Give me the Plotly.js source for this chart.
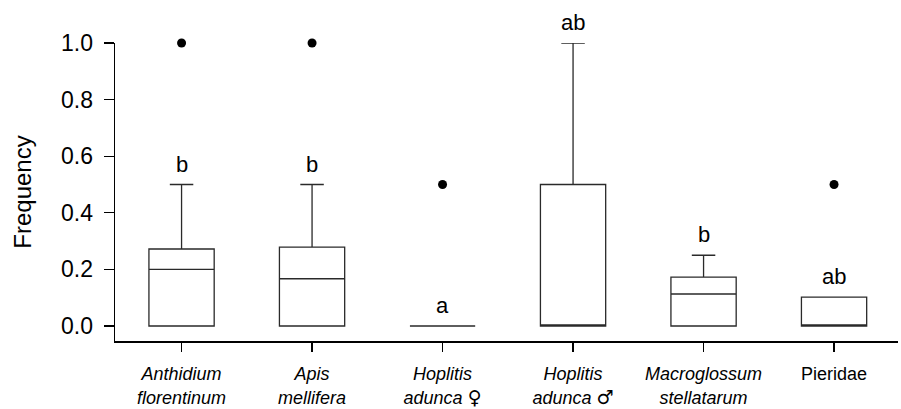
<!DOCTYPE html>
<html>
<head>
<meta charset="utf-8">
<script src="https://cdn.plot.ly/plotly-3.0.1.min.js"></script>
<style>
  html, body { margin: 0; padding: 0; background: #fff; }
  #chart { width: 901px; height: 409px; }
</style>
</head>
<body>
<div id="chart"></div>
<script>
// ---- data ----
const categories = ["Anthidium florentinum", "Apis mellifera", "Hoplitis adunca F", "Hoplitis adunca M", "Macroglossum stellatarum", "Pieridae"];
const SYM = '<span style="font-family:DejaVu Sans;font-size:19px">';
const tickLabels = [
  "<i>Anthidium</i><br><i>florentinum</i>",
  "<i>Apis</i><br><i>mellifera</i>",
  "<i>Hoplitis</i><br><i>adunca</i> " + SYM + "\u2640</span>",
  "<i>Hoplitis</i><br><i>adunca</i> " + SYM + "\u2642</span>",
  "<i>Macroglossum</i><br><i>stellatarum</i>",
  "Pieridae"
];
const lowerFence = [0, 0, 0, 0, 0, 0];
const q1Values     = [0, 0, 0, 0, 0, 0];
const medianValues = [0.20, 0.167, 0, 0, 0.113, 0];
const q3Values     = [0.272, 0.279, 0, 0.5, 0.173, 0.102];
const upperFence   = [0.5, 0.5, 0, 1.0, 0.25, 0.102];
const outlierCats  = ["Anthidium florentinum", "Apis mellifera", "Hoplitis adunca F", "Pieridae"];
const outlierVals  = [1.0, 1.0, 0.5, 0.5];
const letters      = ["b", "b", "a", "ab", "b", "ab"];
const yTicks       = [0, 0.2, 0.4, 0.6, 0.8, 1.0];

const FONT = "Liberation Sans, Arial, Helvetica, sans-serif";

const boxTrace = {
  type: "box",
  x: categories,
  q1: q1Values,
  median: medianValues,
  q3: q3Values,
  lowerfence: lowerFence,
  upperfence: upperFence,
  width: 0.5,
  whiskerwidth: 0.36,
  fillcolor: "#ffffff",
  line: { color: "#2a2a2a", width: 1.3 },
  boxpoints: false,
  hoverinfo: "skip",
  showlegend: false
};

const outlierTrace = {
  type: "scatter",
  mode: "markers",
  x: outlierCats,
  y: outlierVals,
  marker: { color: "#000", size: 9 },
  cliponaxis: false,
  hoverinfo: "skip",
  showlegend: false
};

const annotations = categories.map((c, i) => ({
  x: c,
  y: upperFence[i],
  xref: "x",
  yref: "y",
  text: letters[i],
  showarrow: false,
  yanchor: "bottom",
  yshift: 6,
  font: { family: FONT, size: 22, color: "#000" }
}));

const layout = {
  width: 901,
  height: 409,
  margin: { l: 115, r: 3, t: 43, b: 68 },
  paper_bgcolor: "#fff",
  plot_bgcolor: "#fff",
  font: { family: FONT, color: "#000" },
  showlegend: false,
  xaxis: {
    type: "category",
    categoryorder: "array",
    categoryarray: categories,
    tickvals: categories,
    ticktext: tickLabels,
    range: [-0.51, 5.49],
    showline: true,
    linecolor: "#000",
    linewidth: 1.8,
    ticks: "outside",
    ticklen: 9,
    tickwidth: 1.6,
    tickcolor: "#000",
    showgrid: false,
    zeroline: false,
    tickfont: { family: FONT, size: 18, color: "#000" },
    ticklabelstandoff: 7,
    automargin: false,
    fixedrange: true
  },
  yaxis: {
    range: [-0.053, 1.0],
    tickvals: yTicks,
    tickformat: ".1f",
    showline: true,
    linecolor: "#000",
    linewidth: 1.4,
    ticks: "outside",
    ticklen: 10,
    tickwidth: 1.3,
    tickcolor: "#000",
    showgrid: false,
    zeroline: false,
    tickfont: { family: FONT, size: 23, color: "#000" },
    ticklabelstandoff: 6,
    title: { text: "Frequency", font: { family: FONT, size: 24, color: "#000" }, standoff: 22 },
    automargin: false,
    fixedrange: true
  },
  annotations: annotations
};

Plotly.newPlot("chart", [boxTrace, outlierTrace], layout, { displayModeBar: false, staticPlot: true });
</script>
</body>
</html>
